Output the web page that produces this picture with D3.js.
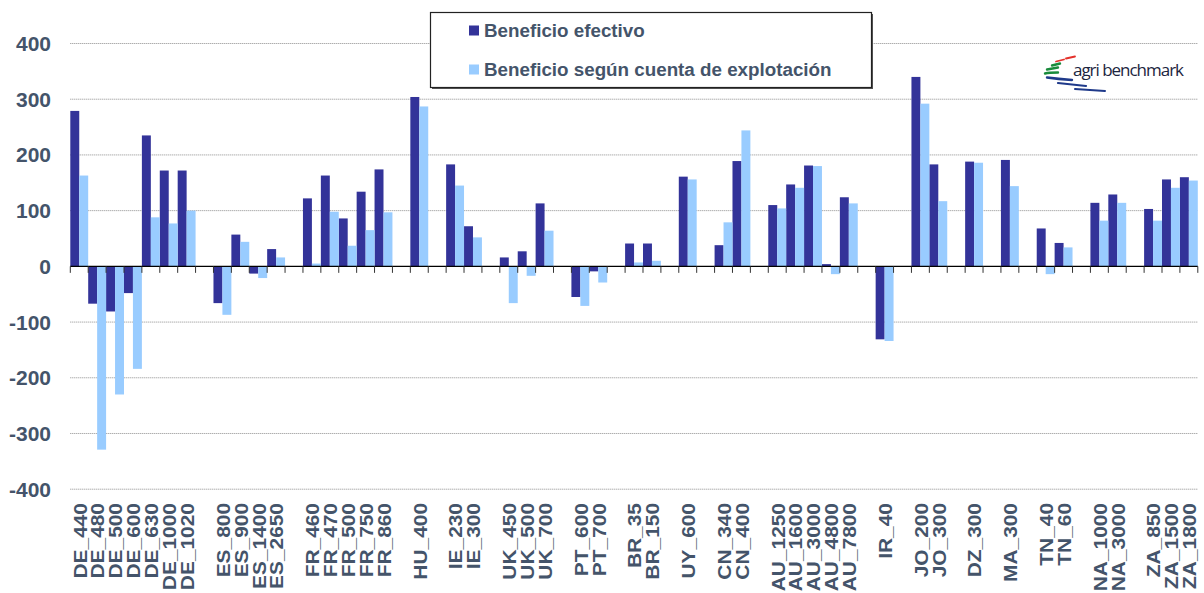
<!DOCTYPE html>
<html>
<head>
<meta charset="utf-8">
<script src="https://cdn.jsdelivr.net/npm/d3@7"></script>
<style>
  body { margin: 0; background: #fff; }
  svg { display: block; font-family: 'Liberation Sans', Arial, sans-serif; }
</style>
</head>
<body>
<div class="js-chart"></div>
<script>
// null = empty slot between countries
const categories = [
  'DE_440', 'DE_480', 'DE_500', 'DE_600', 'DE_630', 'DE_1000', 'DE_1020', null,
  'ES_800', 'ES_900', 'ES_1400', 'ES_2650', null,
  'FR_460', 'FR_470', 'FR_500', 'FR_750', 'FR_860', null,
  'HU_400', null,
  'IE_230', 'IE_300', null,
  'UK_450', 'UK_500', 'UK_700', null,
  'PT_600', 'PT_700', null,
  'BR_35', 'BR_150', null,
  'UY_600', null,
  'CN_340', 'CN_400', null,
  'AU_1250', 'AU_1600', 'AU_3000', 'AU_4800', 'AU_7800', null,
  'IR_40', null,
  'JO_200', 'JO_300', null,
  'DZ_300', null,
  'MA_300', null,
  'TN_40', 'TN_60', null,
  'NA_1000', 'NA_3000', null,
  'ZA_850', 'ZA_1500', 'ZA_1800'
];

const efectivo = [
  279, -67, -81, -48, 235, 172, 172, null,
  -66, 57, -13, 31, null,
  122, 163, 86, 134, 174, null,
  304, null,
  183, 72, null,
  16, 27, 113, null,
  -55, -9, null,
  41, 41, null,
  161, null,
  38, 189, null,
  110, 147, 181, 4, 124, null,
  -131, null,
  340, 183, null,
  188, null,
  191, null,
  68, 42, null,
  114, 129, null,
  103, 156, 160
];

const explotacion = [
  163, -329, -230, -184, 88, 77, 100, null,
  -87, 44, -21, 16, null,
  5, 98, 37, 65, 97, null,
  287, null,
  145, 52, null,
  -66, -17, 64, null,
  -71, -29, null,
  7, 10, null,
  156, null,
  79, 244, null,
  104, 141, 180, -14, 113, null,
  -134, null,
  292, 117, null,
  186, null,
  144, null,
  -14, 34, null,
  82, 114, null,
  82, 141, 154
];

const seriesNames = ['Beneficio efectivo', 'Beneficio según cuenta de explotación'];
const seriesColors = ['#333399', '#99ccff'];
const yTicks = [-400, -300, -200, -100, 0, 100, 200, 300, 400];

const width = 1204, height = 593;
const plotLeft = 70.3, plotRight = 1197.8, plotTop = 43.5, plotBottom = 489.2;
const textColor = '#44546a';

const svg = d3.select('.js-chart').append('svg')
  .attr('width', width).attr('height', height);

const slots = d3.range(categories.length);

const x = d3.scaleBand()
  .domain(slots)
  .range([plotLeft, plotRight])
  .padding(0);

const xInner = d3.scaleBand()
  .domain([0, 1])
  .range([0, x.bandwidth()])
  .padding(0);

const y = d3.scaleLinear()
  .domain([-400, 400])
  .range([plotBottom, plotTop]);

// gridlines (dotted), zero line drawn later on top of the bars
svg.append('g').selectAll('line')
  .data(yTicks.filter(function(v) { return v !== 0; }))
  .enter().append('line')
  .attr('x1', plotLeft).attr('x2', plotRight)
  .attr('y1', function(v) { return y(v); })
  .attr('y2', function(v) { return y(v); })
  .attr('stroke', '#8c8c8c')
  .attr('stroke-width', 1)
  .attr('stroke-dasharray', '1,1');

// y labels
svg.append('g').selectAll('text')
  .data(yTicks).enter().append('text')
  .attr('x', 51)
  .attr('y', function(v) { return y(v); })
  .attr('dy', '0.36em')
  .attr('text-anchor', 'end')
  .attr('font-size', 21)
  .attr('font-weight', 'bold')
  .attr('fill', textColor)
  .text(function(v) { return v; });

// bars
const rows = slots.filter(function(i) { return categories[i] !== null; });
[efectivo, explotacion].forEach(function(values, s) {
  svg.append('g').selectAll('rect')
    .data(rows).enter().append('rect')
    .attr('x', function(i) { return x(i) + xInner(s); })
    .attr('width', xInner.bandwidth())
    .attr('y', function(i) { return y(Math.max(0, values[i])); })
    .attr('height', function(i) { return Math.abs(y(values[i]) - y(0)); })
    .attr('fill', seriesColors[s]);
});

// zero axis with ticks at slot boundaries
const xAxis = svg.append('g');
xAxis.append('line')
  .attr('x1', plotLeft).attr('x2', plotRight)
  .attr('y1', y(0)).attr('y2', y(0))
  .attr('stroke', '#000').attr('stroke-width', 1.3);

xAxis.selectAll('.tick')
  .data(d3.range(categories.length + 1)).enter().append('line')
  .attr('class', 'tick')
  .attr('x1', function(i) { return plotLeft + i * x.step(); })
  .attr('x2', function(i) { return plotLeft + i * x.step(); })
  .attr('y1', y(0)).attr('y2', y(0) + 6.5)
  .attr('stroke', '#333').attr('stroke-width', 1);

// rotated category labels (slightly stretched along the text like the original)
svg.append('g').selectAll('text')
  .data(rows).enter().append('text')
  .attr('transform', function(i) {
    return 'translate(' + (x(i) + x.bandwidth() / 2 + 0.5) + ',503) rotate(-90) scale(1.1,1)';
  })
  .attr('dy', '0.36em')
  .attr('text-anchor', 'end')
  .attr('font-size', 19)
  .attr('font-weight', 'bold')
  .attr('fill', textColor)
  .text(function(i) { return categories[i]; });

// legend
const legend = svg.append('g');
legend.append('rect')
  .attr('x', 432).attr('y', 14).attr('width', 441).attr('height', 75)
  .attr('fill', '#555');
legend.append('rect')
  .attr('x', 430.5).attr('y', 12.5).attr('width', 441).attr('height', 75)
  .attr('fill', '#fff').attr('stroke', '#222').attr('stroke-width', 1.2);

seriesNames.forEach(function(name, s) {
  const ly = 30.5 + s * 39;
  legend.append('rect')
    .attr('x', 469).attr('y', ly - 5).attr('width', 10).attr('height', 10)
    .attr('fill', seriesColors[s]);
  legend.append('text')
    .attr('x', 484).attr('y', ly + 6.5)
    .attr('font-size', 18.8)
    .attr('font-weight', 'bold')
    .attr('fill', textColor)
    .text(name);
});

// agri benchmark logo
const logo = svg.append('g');
const swoosh = [
  { d: 'M1056,61.5 L1064,59.5', c: '#e4312b', w: 1.8 },
  { d: 'M1066,58.5 L1075,56.5', c: '#e4312b', w: 1.8 },
  { d: 'M1052,65.5 L1060,63.5', c: '#1a8b3c', w: 2.4 },
  { d: 'M1047,69.5 L1058,67.5', c: '#1a8b3c', w: 2.4 },
  { d: 'M1045,73.5 Q1049,72.5 1058,72.5', c: '#1a8b3c', w: 2.4 },
  { d: 'M1047,77.5 Q1058,79 1072,80', c: '#1f3a8a', w: 2.4 },
  { d: 'M1058,83 Q1072,84.5 1086,86', c: '#1f3a8a', w: 2.2 },
  { d: 'M1075,89 Q1090,90 1105,91', c: '#1f3a8a', w: 2 }
];
logo.selectAll('path').data(swoosh).enter().append('path')
  .attr('d', function(p) { return p.d; })
  .attr('fill', 'none')
  .attr('stroke', function(p) { return p.c; })
  .attr('stroke-width', function(p) { return p.w; })
  .attr('stroke-linecap', 'round');
logo.append('text')
  .attr('x', 1073).attr('y', 76)
  .attr('font-family', "'Open Sans', sans-serif")
  .attr('font-size', 17)
  .attr('textLength', 111)
  .attr('fill', '#1c2540')
  .text('agri benchmark');
</script>
</body>
</html>
